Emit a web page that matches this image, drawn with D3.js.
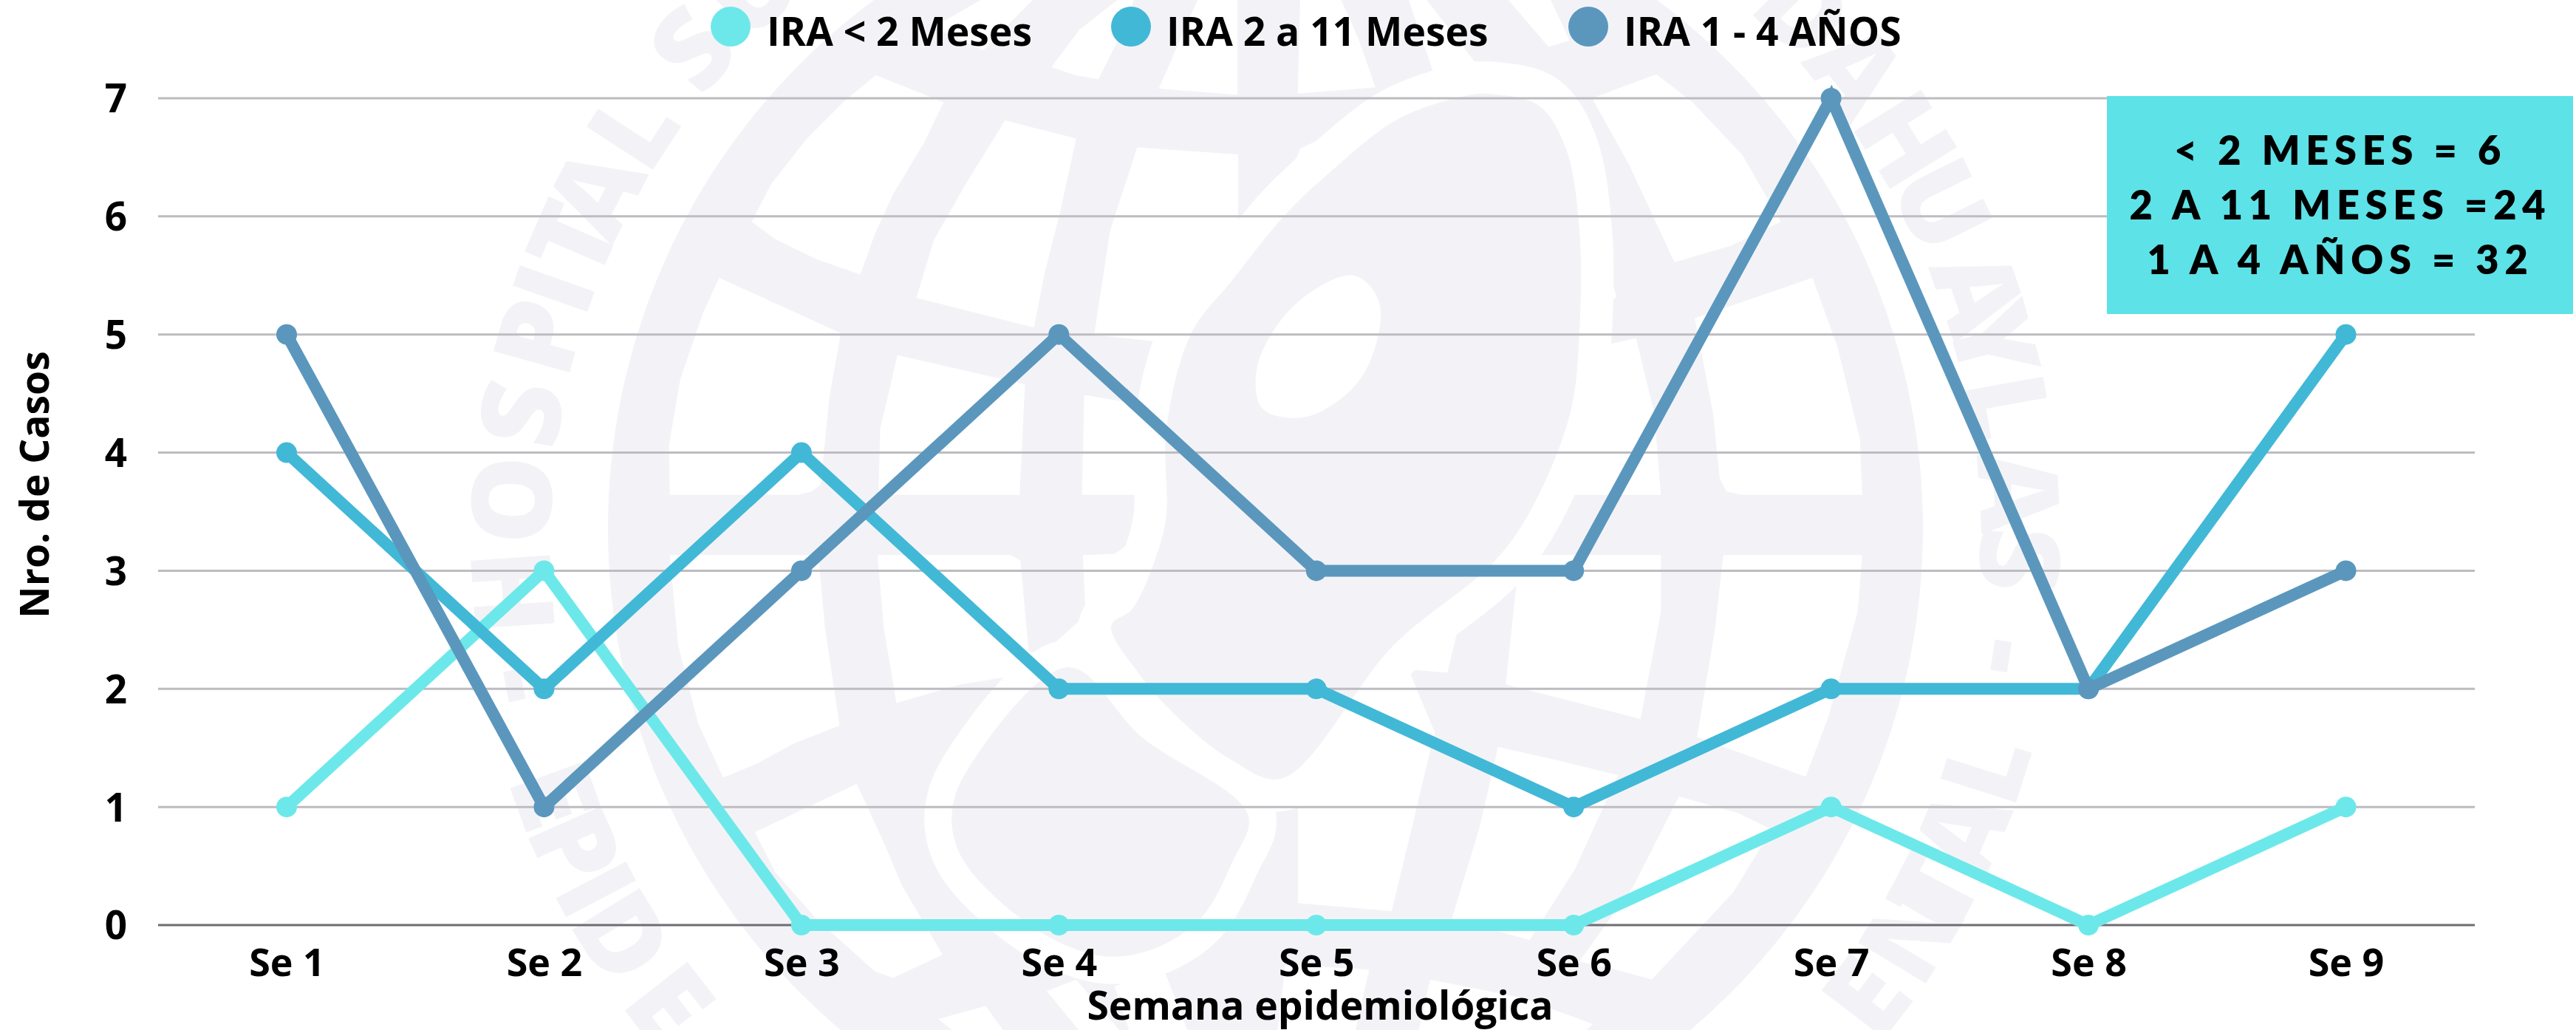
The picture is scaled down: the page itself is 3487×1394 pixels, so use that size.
<!DOCTYPE html>
<html><head><meta charset="utf-8">
<style>html,body{margin:0;padding:0;background:#fff}svg{display:block}text{font-family:"Open Sans",sans-serif;font-weight:700;fill:#000}</style>
<script src="https://cdn.jsdelivr.net/npm/d3@7"></script></head>
<body><svg id="c" width="3487" height="1394"></svg>
<script>
const weeks=["Se 1","Se 2","Se 3","Se 4","Se 5","Se 6","Se 7","Se 8","Se 9"];
const menor2=[1,3,0,0,0,0,1,0,1];
const de2a11=[4,2,4,2,2,1,2,2,5];
const de1a4=[5,1,3,5,3,3,7,2,3];
const legendNames=["IRA < 2 Meses","IRA 2 a 11 Meses","IRA 1 - 4 AÑOS"];
const colors=["#6de8ea","#42b8d7","#5b97bd"];
const summary=["< 2 MESES = 6","2 A 11 MESES =24","1 A 4 AÑOS = 32"];
const yTicks=[0,1,2,3,4,5,6,7];

const svg=d3.select("#c");
const W="#f3f3f7";
// ---------- watermark logo ----------
const wm=svg.append("g").attr("id","watermark");
const cx=1713,cy=715;
const tiles={
 z5:p=>[780+p[0]/1.633,p[1]/2.24],
 z6:p=>[1740+p[0]/1.633,p[1]/2.24],
 z7:p=>[780+p[0]/1.633,694+p[1]/2.24],
 z8:p=>[1740+p[0]/1.633,694+p[1]/2.24],
 z9:p=>[1200+p[0]/1.568,p[1]/3]};
const cells=[
 ["z5",[[662,228],[812,310],[770,430],[700,590],[660,710],[628,832],[530,785],[440,725],[388,672],[430,560],[510,420],[590,310]]],
 ["z5",[[948,365],[1105,420],[1070,640],[1035,830],[1012,993],[752,903],[790,730],[860,560]]],
 ["z5",[[316,842],[585,1010],[560,1200],[540,1470],[520,1490],[490,1500],[207,1500],[205,1350],[230,1150],[280,950]]],
 ["z5",[[710,1077],[992,1165],[980,1500],[668,1500],[672,1300]]],
 ["z5",[[1240,447],[1463,468],[1463,695],[1568,565],[1600,450],[1680,400],[1800,300],[1900,240],[1840,0],[1880,0],[2050,300],[2200,500],[2300,900],[2000,1200],[1500,1100],[1282,1035],[1145,1015],[1180,700]]],
 ["z5",[[1123,1197],[1245,1225],[1282,1035],[1450,1000],[1400,1500],[1310,1570],[1240,1570],[1248,1500],[1118,1500]]],
 ["z9",[[350,272],[400,305],[450,322],[505,110],[525,0],[490,0],[410,120]]],
 ["z9",[[578,360],[745,385],[745,0],[660,0]]],
 ["z9",[[873,380],[1038,355],[1000,150],[965,0],[878,0]]],
 ["z9",[[100,110],[205,205],[310,0],[200,0]]],
 ["z9",[[1320,0],[1405,190],[1450,165],[1410,0]]],
 ["z7",[[207,128],[535,128],[550,350],[582,645],[480,700],[400,760],[325,803],[270,640],[225,400]]],
 ["z7",[[666,128],[960,128],[982,145],[1000,420],[1030,430],[985,490],[850,520],[708,577],[680,350]]],
 ["z7",[[1120,128],[1190,125],[1225,90],[1250,0],[1310,0],[1290,100],[1230,290],[1183,342],[1240,480],[1090,470],[1030,430],[1110,330],[1125,280]]],
 ["z7",[[620,822],[395,968],[440,1090],[530,1230],[660,1390],[700,1410],[810,1340],[720,1130],[680,1000]]],
 ["z8",[[553,128],[830,128],[830,300],[785,625],[487,520],[512,200]]],
 ["z8",[[968,128],[1275,128],[1265,300],[1200,620],[1150,800],[910,680],[950,350]]],
 ["z8",[[470,710],[600,750],[735,795],[640,1080],[540,1295],[368,1230],[430,950]]],
 ["z8",[[870,860],[1000,910],[1075,960],[990,1150],[810,1415],[730,1385],[650,1360],[770,1130]]],
 ["z8",[[240,405],[272,475],[330,665],[235,1208],[28,1183],[28,870],[-8,805]]],
 ["z8",[[555,125],[510,200],[380,360],[358,485],[272,475],[240,405],[460,150],[540,0],[600,0]]],
 ["z6",[[820,225],[678,298],[760,500],[860,795],[985,745],[1095,672],[1010,470],[900,310]]],
 ["z6",[[1165,842],[905,965],[945,1250],[960,1450],[975,1490],[1010,1500],[1275,1500],[1270,1330],[1220,1050]]],
 ["z6",[[702,1048],[775,1025],[815,1250],[830,1500],[620,1500],[660,1300]]],
 ["z7",[[800,1535],[905,1495],[960,1600],[860,1600]]],
 ["z7",[[1040,1450],[1105,1415],[1220,1600],[1130,1600]]],
 ["z7",[[1190,1435],[1300,1388],[1360,1600],[1230,1600]]],
 ["z8",[[320,1415],[520,1470],[680,1550],[640,1600],[290,1600]]],
 ["z8",[[0,1370],[185,1385],[150,1600],[-20,1600]]]
];
const bean=[[450,285],[560,320],[620,450],[650,700],[650,1000],[630,1250],[545,1540],[460,1705],[240,1955],[-8,2360],[-118,2305],[-238,2175],[-328,2035],[-385,1897],[-338,1845],[-278,1655],[-263,1555],[-263,1300],[-208,1010],[-118,850],[0,650],[100,520],[250,360],[400,290]];
const blob=[[1088,468],[1250,680],[1485,915],[1450,1060],[1380,1230],[1280,1320],[1170,1345],[1050,1290],[930,1170],[850,1040],[830,920],[860,790]];
const egg=[[150,835],[208,920],[170,1140],[50,1262],[-50,1240],[-62,1110],[20,925]];
const poly=d3.line().curve(d3.curveLinearClosed);
const smooth=d3.line().curve(d3.curveCatmullRomClosed.alpha(0.5));
wm.append("circle").attr("cx",cx).attr("cy",cy).attr("r",890).attr("fill",W);
cells.forEach(([t,pts])=>wm.append("path").attr("d",poly(pts.map(tiles[t]))).attr("fill","#fff"));
wm.append("path").attr("d",smooth(bean.map(tiles.z6))).attr("fill",W).attr("stroke","#fff").attr("stroke-width",88).attr("paint-order","stroke").attr("stroke-linejoin","round");
wm.append("path").attr("d",smooth(blob.map(tiles.z7))).attr("fill",W).attr("stroke","#fff").attr("stroke-width",74).attr("paint-order","stroke").attr("stroke-linejoin","round");
wm.append("path").attr("d",smooth(egg.map(tiles.z6))).attr("fill","#fff");
// ring lettering: letter, degrees clockwise from north, flipped for the lower arc
const ring=[["H",-94],["O",-87],["S",-80.4],["P",-74.4],["I",-70.6],["T",-66.6],["A",-62.6],["L",-57],["S",-49.4],["U",-43],
 ["D",45.5],["A",51.5],["H",58],["U",63.7],["A",70.9],["Y",74.8],["L",79.9],["A",86.4],["S",91.5],["-",99],
 ["L",107.6],["A",112.8],["T",117.7],["N",121.2],["E",127.3],
 ["-",-101],["E",-109.8],["P",-114],["I",-117.6],["D",-121.7],["E",-127.9]];
const RT=1022,ox=1713,oy=730;
ring.forEach(([ch,a])=>{
  const low=Math.abs(a)>=100;
  const r=a*Math.PI/180, x=ox+RT*Math.sin(r), y=oy-RT*Math.cos(r);
  wm.append("text").text(ch).attr("text-anchor","middle")
    .attr("transform",`translate(${x},${y}) rotate(${low?a+180:a})`)
    .attr("dy",54).style("font-size","150px").style("font-weight",800).style("fill",W);
});

// ---------- chart ----------
const x=d3.scalePoint().domain(weeks).range([388,3175.5]);
const y=d3.scaleLinear().domain([0,7]).range([1252,133]);
const L=214,R=3350;
const grid=svg.append("g");
yTicks.forEach(t=>grid.append("line").attr("x1",L).attr("x2",R).attr("y1",y(t)).attr("y2",y(t))
  .attr("stroke",t===0?"#6e6e72":"#bdbdc1").attr("stroke-width",3));

const ax=svg.append("g").attr("transform","translate(0,1252)").call(d3.axisBottom(x).tickSize(0).tickPadding(0));
ax.select(".domain").remove();
ax.selectAll("text").attr("y",69).attr("dy",0).style("font-size","52px").attr("text-anchor","middle");
const ay=svg.append("g").attr("transform",`translate(${L},0)`).call(d3.axisLeft(y).tickValues(yTicks).tickFormat(d3.format("d")).tickSize(0).tickPadding(42));
ay.select(".domain").remove();
ay.selectAll("text").attr("dy",".357em").style("font-size","53px");

svg.append("text").attr("x",1787).attr("y",1380).attr("text-anchor","middle").style("font-size","53.4px").text("Semana epidemiológica");
svg.append("text").attr("transform","translate(66,656) rotate(-90)").attr("text-anchor","middle").style("font-size","53.4px").text("Nro. de Casos");

const line=d3.line().x((d,i)=>x(weeks[i])).y(d=>y(d));
[menor2,de2a11,de1a4].forEach((s,k)=>{
  const g=svg.append("g");
  g.append("path").attr("d",line(s)).attr("fill","none").attr("stroke",colors[k]).attr("stroke-width",16).attr("stroke-linejoin","miter");
  g.selectAll("circle").data(s).join("circle").attr("cx",(d,i)=>x(weeks[i])).attr("cy",d=>y(d)).attr("r",14).attr("fill",colors[k]);
});

// legend
const legX=[989,1531,2150], legT=[1038,1579,2198];
legendNames.forEach((n,i)=>{
  svg.append("circle").attr("cx",legX[i]).attr("cy",36).attr("r",27).attr("fill",colors[i]);
  svg.append("text").attr("x",legT[i]).attr("y",61.5).style("font-size","53.4px").text(n);
});

// summary box
svg.append("rect").attr("x",2852).attr("y",130).attr("width",631).attr("height",295).attr("fill","#5de2e7");
const sy=[223,297,371];
summary.forEach((t,i)=>svg.append("text").attr("x",3168).attr("y",sy[i]).attr("text-anchor","middle")
  .style("font-family","Lato,sans-serif").style("font-weight",800).style("font-size","54px").style("letter-spacing","7.8px").text(t));
</script></body></html>
